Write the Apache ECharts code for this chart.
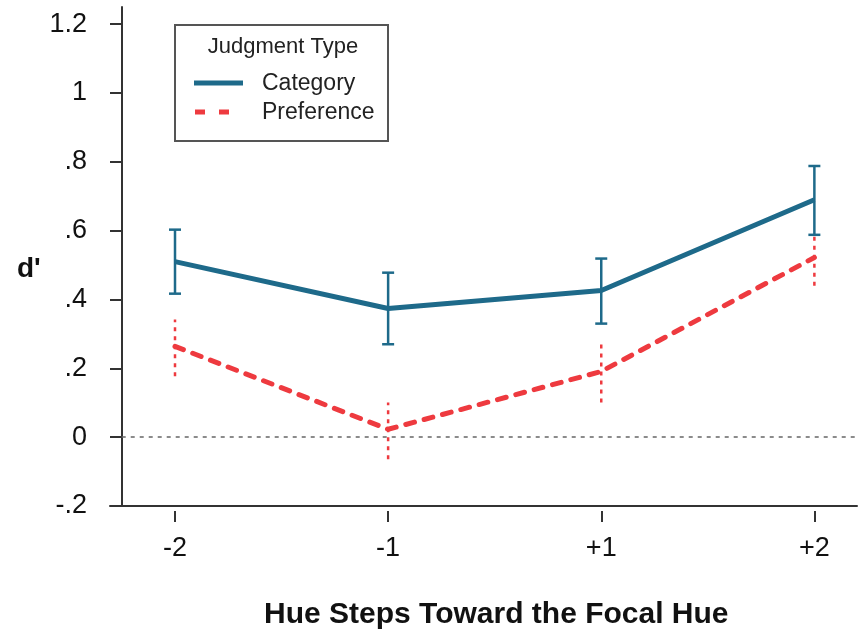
<!DOCTYPE html>
<html>
<head>
<meta charset="utf-8">
<script src="https://cdn.jsdelivr.net/npm/echarts@6/dist/echarts.min.js"></script>
<style>
  html, body { margin: 0; padding: 0; background: #fff; }
  #main { width: 859px; height: 634px; }
</style>
</head>
<body>
<div id="main"></div>
<script>
// hue steps on the x axis (plotted at positions 0..3)
const stepLabels = ['-2', '-1', '+1', '+2'];
const stepPos = [0, 1, 2, 3];

// d' means and error bar ends
const categoryMean = [0.51, 0.374, 0.426, 0.69];
const categoryLow = [0.417, 0.27, 0.33, 0.588];
const categoryHigh = [0.603, 0.478, 0.519, 0.788];

const preferenceMean = [0.264, 0.023, 0.191, 0.522];
const preferenceLow = [0.177, -0.064, 0.101, 0.44];
const preferenceHigh = [0.342, 0.101, 0.272, 0.597];

const yTicks = [-0.2, 0, 0.2, 0.4, 0.6, 0.8, 1, 1.2];
const yTickLabels = ['-.2', '0', '.2', '.4', '.6', '.8', '1', '1.2'];

const BLUE = '#1e6a8a';
const RED = '#ee3a3f';
const FONT = 'Liberation Sans, Arial, sans-serif';

const chart = echarts.init(document.getElementById('main'));

// error bars, drawn through the axes
function errorBars(color, caps, dashed) {
  return function (params, api) {
    const x = api.value(0);
    const lo = api.coord([x, api.value(1)]);
    const hi = api.coord([x, api.value(2)]);
    const style = { stroke: color, lineWidth: 2.5, lineDash: dashed ? [4, 5] : null };
    const children = [{ type: 'line', shape: { x1: lo[0], y1: lo[1], x2: hi[0], y2: hi[1] }, style: style }];
    if (caps) {
      children.push({ type: 'line', shape: { x1: lo[0] - 6, y1: lo[1], x2: lo[0] + 6, y2: lo[1] }, style: style });
      children.push({ type: 'line', shape: { x1: hi[0] - 6, y1: hi[1], x2: hi[0] + 6, y2: hi[1] }, style: style });
    }
    return { type: 'group', children: children };
  };
}

// legend box drawn by hand (title + two line samples)
const legendText = { fontFamily: FONT, fontSize: 23, fill: '#222', verticalAlign: 'middle' };

const option = {
  animation: false,
  backgroundColor: '#fff',
  textStyle: { fontFamily: FONT },
  title: [
    {
      text: 'Hue Steps Toward the Focal Hue',
      left: 259, top: 595,
      textStyle: { fontFamily: FONT, fontSize: 30, fontWeight: 'bold', color: '#111' }
    },
    {
      text: "d'",
      left: 12, top: 250,
      textStyle: { fontFamily: FONT, fontSize: 28, fontWeight: 'bold', color: '#111' }
    }
  ],
  graphic: [
    {
      type: 'rect',
      shape: { x: 175, y: 25, width: 213, height: 116 },
      style: { fill: '#fff', stroke: '#555', lineWidth: 2 },
      z: 1
    },
    {
      type: 'text', x: 283, y: 47, z: 2,
      style: Object.assign({ text: 'Judgment Type', align: 'center' }, legendText, { fontSize: 22 })
    },
    {
      type: 'line', z: 2,
      shape: { x1: 194, y1: 83, x2: 243, y2: 83 },
      style: { stroke: BLUE, lineWidth: 5 }
    },
    {
      type: 'text', x: 262, y: 84, z: 2,
      style: Object.assign({ text: 'Category', align: 'left' }, legendText)
    },
    {
      type: 'line', z: 2,
      shape: { x1: 195, y1: 112, x2: 243, y2: 112 },
      style: { stroke: RED, lineWidth: 5, lineDash: [10, 14] }
    },
    {
      type: 'text', x: 262, y: 113, z: 2,
      style: Object.assign({ text: 'Preference', align: 'left' }, legendText)
    }
  ],
  grid: { left: 110, right: 2, top: 7, bottom: 128 },
  xAxis: [
    {
      type: 'value', min: -0.305, max: 3.2,
      axisLine: { show: true, onZero: false, lineStyle: { color: '#333', width: 2 } },
      axisTick: { show: false }, axisLabel: { show: false }, splitLine: { show: false }
    },
    {
      type: 'value', min: -0.305, max: 3.2, position: 'bottom', offset: 5,
      axisLine: { show: false, onZero: false },
      axisTick: { show: true, length: 11, customValues: stepPos, lineStyle: { color: '#333', width: 2 } },
      axisLabel: {
        customValues: stepPos, margin: 24,
        formatter: v => stepLabels[Math.round(v)],
        fontFamily: FONT, fontSize: 27, color: '#111'
      },
      splitLine: { show: false }
    }
  ],
  yAxis: {
    type: 'value', min: -0.2, max: 1.25, offset: -12,
    axisLine: { show: true, onZero: false, lineStyle: { color: '#333', width: 2 } },
    axisTick: { show: true, length: 12, customValues: yTicks, lineStyle: { color: '#333', width: 2 } },
    axisLabel: {
      customValues: yTicks, margin: 35,
      formatter: v => yTickLabels[yTicks.findIndex(t => Math.abs(t - v) < 1e-6)],
      fontFamily: FONT, fontSize: 27, color: '#111'
    },
    splitLine: { show: false }
  },
  series: [
    {
      name: 'zero', type: 'line', xAxisIndex: 0, data: [],
      markLine: {
        silent: true, symbol: 'none', label: { show: false },
        lineStyle: { color: '#666', type: [4, 5], width: 1.5 },
        data: [[{ coord: [-0.25, 0] }, { coord: [3.2, 0] }]]
      }
    },
    {
      name: 'prefErr', type: 'custom', xAxisIndex: 0,
      renderItem: errorBars(RED, false, true),
      data: stepPos.map((x, i) => [x, preferenceLow[i], preferenceHigh[i]]),
      z: 3
    },
    {
      name: 'Preference', type: 'line', xAxisIndex: 0, symbol: 'none',
      data: stepPos.map((x, i) => [x, preferenceMean[i]]),
      lineStyle: { color: RED, width: 5, type: [9, 10], cap: 'round' },
      itemStyle: { color: RED },
      z: 4
    },
    {
      name: 'catErr', type: 'custom', xAxisIndex: 0,
      renderItem: errorBars(BLUE, true, false),
      data: stepPos.map((x, i) => [x, categoryLow[i], categoryHigh[i]]),
      z: 5
    },
    {
      name: 'Category', type: 'line', xAxisIndex: 0, symbol: 'none',
      data: stepPos.map((x, i) => [x, categoryMean[i]]),
      lineStyle: { color: BLUE, width: 5 },
      itemStyle: { color: BLUE },
      z: 6
    }
  ]
};

chart.setOption(option);
</script>
</body>
</html>
